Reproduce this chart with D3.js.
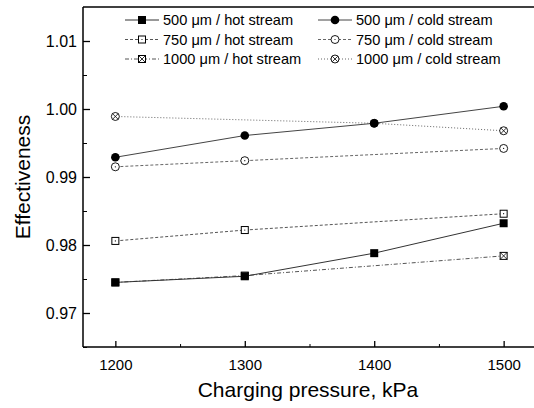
<!DOCTYPE html>
<html>
<head>
<meta charset="utf-8">
<script src="https://cdn.jsdelivr.net/npm/d3@7"></script>
<style>
  body { margin: 0; background: #fff; }
  text { font-family: Arial, "Liberation Sans", sans-serif; fill: #000; }
</style>
</head>
<body>
<div id="chart"></div>
<script>
var pressures = [1200, 1300, 1400, 1500];
var yTicks = [0.97, 0.98, 0.99, 1.00, 1.01];

// series values (null = no point measured)
var hot500  = [0.9745, 0.9754, 0.9788, 0.9832];
var hot750  = [0.9806, 0.9822, null, 0.9846];
var hot1000 = [0.9745, 0.9755, null, 0.9784];
var cold500  = [0.9929, 0.9961, 0.9979, 1.0004];
var cold750  = [0.9915, 0.9924, null, 0.9942];
var cold1000 = [0.9989, null, 0.9979, 0.9968];

var seriesNames = ["500 \u03bcm / hot stream", "750 \u03bcm / hot stream", "1000 \u03bcm / hot stream",
                   "500 \u03bcm / cold stream", "750 \u03bcm / cold stream", "1000 \u03bcm / cold stream"];

(function() {
    var width = 534, height = 408;
    var margin = { top: 7, left: 83, right: -2, bottom: 61 };

    var svg = d3.select("#chart")
    .append("svg")
    .attr("width", width)
    .attr("height", height);

    var x = d3.scaleLinear()
    .domain([1175, 1525])
    .range([margin.left, width - margin.right]);

    var y = d3.scaleLinear()
    .domain([0.965, 1.015])
    .range([height - margin.bottom, margin.top]);

    var series = [
        { name: seriesNames[0], values: hot500,  marker: "fsquare", dash: null,      stroke: "#333" },
        { name: seriesNames[1], values: hot750,  marker: "osquare", dash: "3,2",     stroke: "#555" },
        { name: seriesNames[2], values: hot1000, marker: "xsquare", dash: "4,2,1,2", stroke: "#555" },
        { name: seriesNames[3], values: cold500,  marker: "fcircle", dash: null,     stroke: "#444" },
        { name: seriesNames[4], values: cold750,  marker: "ocircle", dash: "3,2",    stroke: "#666" },
        { name: seriesNames[5], values: cold1000, marker: "xcircle", dash: "1,2",    stroke: "#666" }
    ];

    //frame: top and bottom lines, left axis (right side is cut off)
    var frame = svg.append("g").attr("stroke", "#000").attr("stroke-width", 1.5);
    frame.append("line").attr("x1", x(1175)).attr("x2", x(1525)).attr("y1", y(1.015)).attr("y2", y(1.015));
    frame.append("line").attr("x1", x(1175)).attr("x2", x(1525)).attr("y1", y(0.965)).attr("y2", y(0.965));
    frame.append("line").attr("x1", x(1175)).attr("x2", x(1175)).attr("y1", y(0.965)).attr("y2", y(1.015));

    //y axis with inward ticks
    var yAxis = svg.append("g")
    .attr("transform", "translate(" + x(1175) + ",0)")
    .call(d3.axisRight(y).tickValues(yTicks).tickSize(7).tickFormat(d3.format(".2f")));
    yAxis.select(".domain").remove();
    yAxis.selectAll("line").attr("stroke-width", 1.3);
    yAxis.selectAll("text")
    .attr("x", -6)
    .attr("text-anchor", "end")
    .attr("font-size", 16)
    .attr("font-family", "Arial, 'Liberation Sans', sans-serif");

    var yMinor = svg.append("g")
    .attr("transform", "translate(" + x(1175) + ",0)")
    .call(d3.axisRight(y).tickValues([0.965, 0.975, 0.985, 0.995, 1.005]).tickSize(4).tickFormat(""));
    yMinor.select(".domain").remove();

    //x axis with inward ticks
    var xAxis = svg.append("g")
    .attr("transform", "translate(0," + y(0.965) + ")")
    .call(d3.axisTop(x).tickValues(pressures).tickSize(6).tickFormat(d3.format("d")));
    xAxis.select(".domain").remove();
    xAxis.selectAll("line").attr("stroke-width", 1.3);
    xAxis.selectAll("text")
    .attr("y", 23)
    .attr("dy", 0)
    .attr("font-size", 15)
    .attr("font-family", "Arial, 'Liberation Sans', sans-serif");

    var xMinor = svg.append("g")
    .attr("transform", "translate(0," + y(0.965) + ")")
    .call(d3.axisTop(x).tickValues([1250, 1350, 1450]).tickSize(3).tickFormat(""));
    xMinor.select(".domain").remove();

    //axis titles
    svg.append("text")
    .attr("x", 308)
    .attr("y", 397)
    .attr("text-anchor", "middle")
    .attr("font-size", 21)
    .text("Charging pressure, kPa");

    svg.append("text")
    .attr("transform", "translate(30," + ((y(0.965) + y(1.015)) / 2) + ") rotate(-90)")
    .attr("text-anchor", "middle")
    .attr("font-size", 21)
    .text("Effectiveness");

    function drawMarker(g, type, cx, cy) {
        if (type == "fsquare") {
            g.append("rect").attr("x", cx - 4).attr("y", cy - 4).attr("width", 8).attr("height", 8).attr("fill", "#000");
        } else if (type == "osquare") {
            g.append("rect").attr("x", cx - 3.5).attr("y", cy - 3.5).attr("width", 7).attr("height", 7)
            .attr("fill", "#fff").attr("stroke", "#000").attr("stroke-width", 1);
            g.append("circle").attr("cx", cx).attr("cy", cy).attr("r", 0.6).attr("fill", "#000");
        } else if (type == "xsquare") {
            g.append("rect").attr("x", cx - 3.5).attr("y", cy - 3.5).attr("width", 7).attr("height", 7)
            .attr("fill", "#fff").attr("stroke", "#000").attr("stroke-width", 1);
            g.append("path").attr("d", "M" + (cx - 3.5) + "," + (cy - 3.5) + "L" + (cx + 3.5) + "," + (cy + 3.5) +
                "M" + (cx + 3.5) + "," + (cy - 3.5) + "L" + (cx - 3.5) + "," + (cy + 3.5))
            .attr("stroke", "#000").attr("stroke-width", 0.8);
        } else if (type == "fcircle") {
            g.append("circle").attr("cx", cx).attr("cy", cy).attr("r", 4.3).attr("fill", "#000");
        } else if (type == "ocircle") {
            g.append("circle").attr("cx", cx).attr("cy", cy).attr("r", 4).attr("fill", "#fff")
            .attr("stroke", "#000").attr("stroke-width", 0.9);
            g.append("circle").attr("cx", cx).attr("cy", cy).attr("r", 0.6).attr("fill", "#000");
        } else if (type == "xcircle") {
            g.append("circle").attr("cx", cx).attr("cy", cy).attr("r", 4).attr("fill", "#fff")
            .attr("stroke", "#000").attr("stroke-width", 0.9);
            var d = 2.8;
            g.append("path").attr("d", "M" + (cx - d) + "," + (cy - d) + "L" + (cx + d) + "," + (cy + d) +
                "M" + (cx + d) + "," + (cy - d) + "L" + (cx - d) + "," + (cy + d))
            .attr("stroke", "#000").attr("stroke-width", 0.8);
        }
    }

    var line = d3.line()
    .defined(function(d) { return d.v != null; })
    .x(function(d) { return x(d.p); })
    .y(function(d) { return y(d.v); });

    //lines first (reverse order so 500 um sits on top)
    var plot = svg.append("g");
    series.slice().reverse().forEach(function(s) {
        var pts = pressures.map(function(p, i) { return { p: p, v: s.values[i] }; })
        .filter(function(d) { return d.v != null; });
        plot.append("path")
        .datum(pts)
        .attr("d", line)
        .attr("fill", "none")
        .attr("stroke", s.stroke)
        .attr("stroke-width", 1)
        .attr("stroke-dasharray", s.dash);
    });

    series.slice().reverse().forEach(function(s) {
        var g = plot.append("g");
        pressures.forEach(function(p, i) {
            if (s.values[i] != null) drawMarker(g, s.marker, x(p), y(s.values[i]));
        });
    });

    //legend in two columns
    var legend = svg.append("g");
    series.forEach(function(s, i) {
        var col = Math.floor(i / 3), row = i % 3;
        var lx = col == 0 ? 125 : 318;
        var ly = 20 + row * 19.5;
        var g = legend.append("g");
        g.append("line")
        .attr("x1", lx).attr("x2", lx + 34)
        .attr("y1", ly).attr("y2", ly)
        .attr("stroke", s.stroke)
        .attr("stroke-width", 1)
        .attr("stroke-dasharray", s.dash);
        drawMarker(g, s.marker, lx + 17, ly);
        g.append("text")
        .attr("x", lx + 38)
        .attr("y", ly + 5)
        .attr("font-size", 14.6)
        .text(s.name);
    });
})();
</script>
</body>
</html>
